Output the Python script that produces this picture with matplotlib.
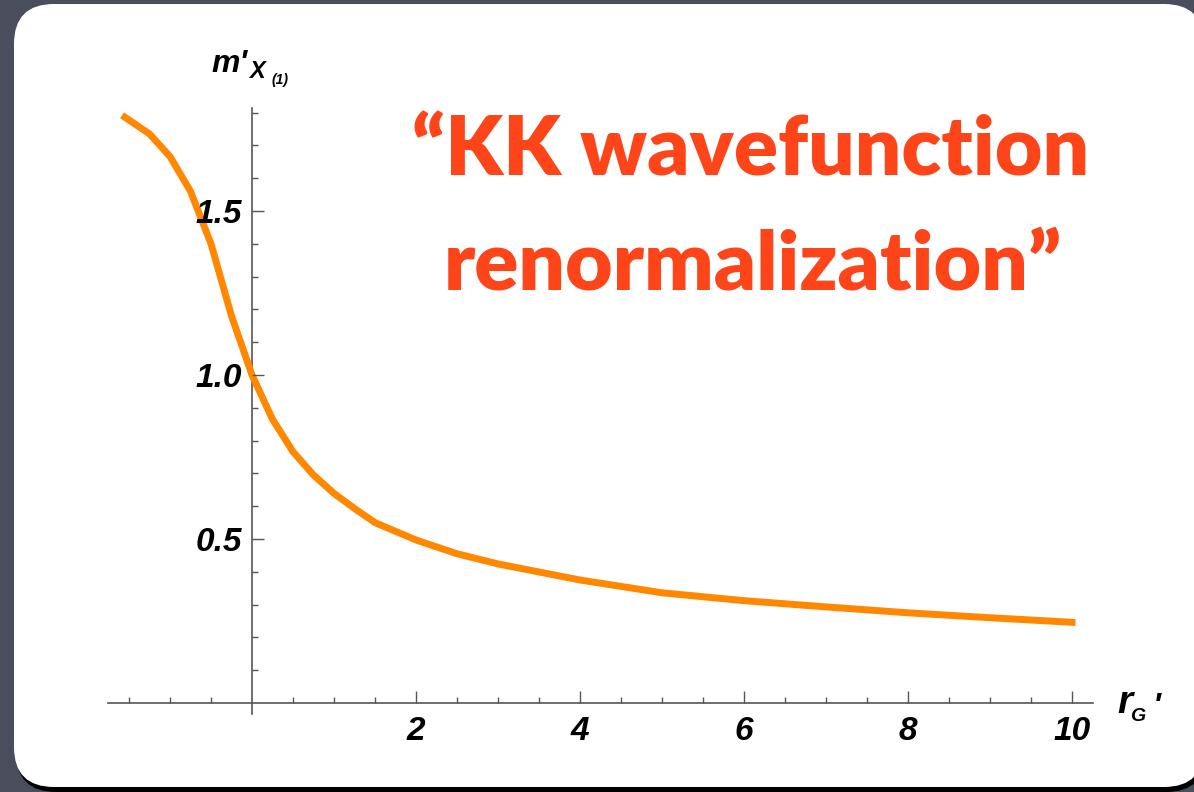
import matplotlib.pyplot as plt
from matplotlib.patches import FancyBboxPatch
from matplotlib.ticker import FixedLocator

# m'_X(1) as a function of r_G'
r_g = [-1.55, -1.25, -1.0, -0.75, -0.5, -0.25, 0.0, 0.25, 0.5, 0.75, 1.0,
       1.25, 1.5, 2.0, 2.5, 3.0, 4.0, 5.0, 6.0, 7.0, 8.0, 9.0, 10.0]
m_x1 = [1.786, 1.735, 1.666, 1.56, 1.40, 1.18, 1.0, 0.865, 0.766, 0.695, 0.639,
        0.593, 0.55, 0.497, 0.455, 0.424, 0.375, 0.336, 0.312, 0.293, 0.275, 0.26, 0.246]

x_major = [2, 4, 6, 8, 10]
x_major_labels = ['2', '4', '6', '8', '10']
x_minor = [-1.5, -1.0, -0.5, 0.5, 1.0, 1.5, 2.5, 3.0, 3.5, 4.5, 5.0, 5.5,
           6.5, 7.0, 7.5, 8.5, 9.0, 9.5]
y_major = [0.5, 1.0, 1.5]
y_major_labels = ['0.5', '1.0', '1.5']
y_minor = [0.1, 0.2, 0.3, 0.4, 0.6, 0.7, 0.8, 0.9, 1.1, 1.2, 1.3, 1.4, 1.6, 1.7, 1.8]

W, H = 1194, 792
fig = plt.figure(figsize=(W / 100, H / 100), dpi=100, facecolor='#4a4d5b')

# slide panel with a dark drop shadow
shadow = FancyBboxPatch((0.16, 0.0), 11.9, 7.83, boxstyle='round,pad=0,rounding_size=0.4',
                        transform=fig.dpi_scale_trans, fc='black', ec='none', zorder=-2)
panel = FancyBboxPatch((0.14, 0.05), 11.9, 7.83, boxstyle='round,pad=0,rounding_size=0.4',
                       transform=fig.dpi_scale_trans, fc='white', ec='none', zorder=-1)
fig.add_artist(shadow)
fig.add_artist(panel)

ax = fig.add_axes([0, 0, 1, 1])
ax.set_facecolor('none')
# 82 px per unit in x, 328 px per unit in y, origin at (252, 703)
ax.set_xlim(-252 / 82, (W - 252) / 82)
ax.set_ylim((703 - H) / 328, 703 / 328)

ax.plot(r_g, m_x1, color='#ff8800', lw=5, solid_joinstyle='miter', zorder=1)

axis_col = '#555555'
for side in ('top', 'right'):
    ax.spines[side].set_visible(False)
ax.spines['left'].set_position(('data', 0))
ax.spines['bottom'].set_position(('data', 0))
ax.spines['left'].set_bounds(-0.035, 1.815)
ax.spines['bottom'].set_bounds(-1.76, 10.26)
for side in ('left', 'bottom'):
    ax.spines[side].set_color(axis_col)
    ax.spines[side].set_linewidth(1.2)
    ax.spines[side].set_zorder(0)

ax.xaxis.set_major_locator(FixedLocator(x_major))
ax.xaxis.set_minor_locator(FixedLocator(x_minor))
ax.yaxis.set_major_locator(FixedLocator(y_major))
ax.yaxis.set_minor_locator(FixedLocator(y_minor))
ax.set_xticklabels(x_major_labels)
ax.set_yticklabels(y_major_labels)

tick_font = dict(family='Liberation Sans', weight='bold', style='italic', size=24)
ax.tick_params(which='major', direction='in', length=8.5, width=1.0, color=axis_col)
ax.tick_params(which='minor', direction='in', length=4.5, width=1.0, color=axis_col)
ax.tick_params(axis='x', which='major', pad=9.5)
ax.tick_params(axis='y', which='major', pad=7)
for lab in ax.get_xticklabels() + ax.get_yticklabels():
    lab.set_fontproperties(tick_font)
    lab.set_zorder(2)


def ftext(x, y, s, size, **kw):
    fig.text(x / W, 1 - y / H, s, fontsize=size, family='Liberation Sans',
             weight='bold', style='italic', va='baseline', ha='left', **kw)


# axis labels
ftext(211, 72, "m'", 23)
ftext(249, 78, 'X', 17)
ftext(271, 84, '(1)', 10)
ftext(1117, 713, 'r', 28)
ftext(1130, 721, 'G', 14)
ftext(1153, 716, "'", 24)

title_kw = dict(ha='center', va='baseline', color='#fe4519', family='Lato', weight='heavy',
                fontsize=59)
fig.text(751 / W, 1 - 175 / H, '\u201cKK wavefunction', **title_kw)
fig.text(753 / W, 1 - 290 / H, 'renormalization\u201d', **title_kw)

fig.savefig('out.png', dpi=100, facecolor=fig.get_facecolor())
